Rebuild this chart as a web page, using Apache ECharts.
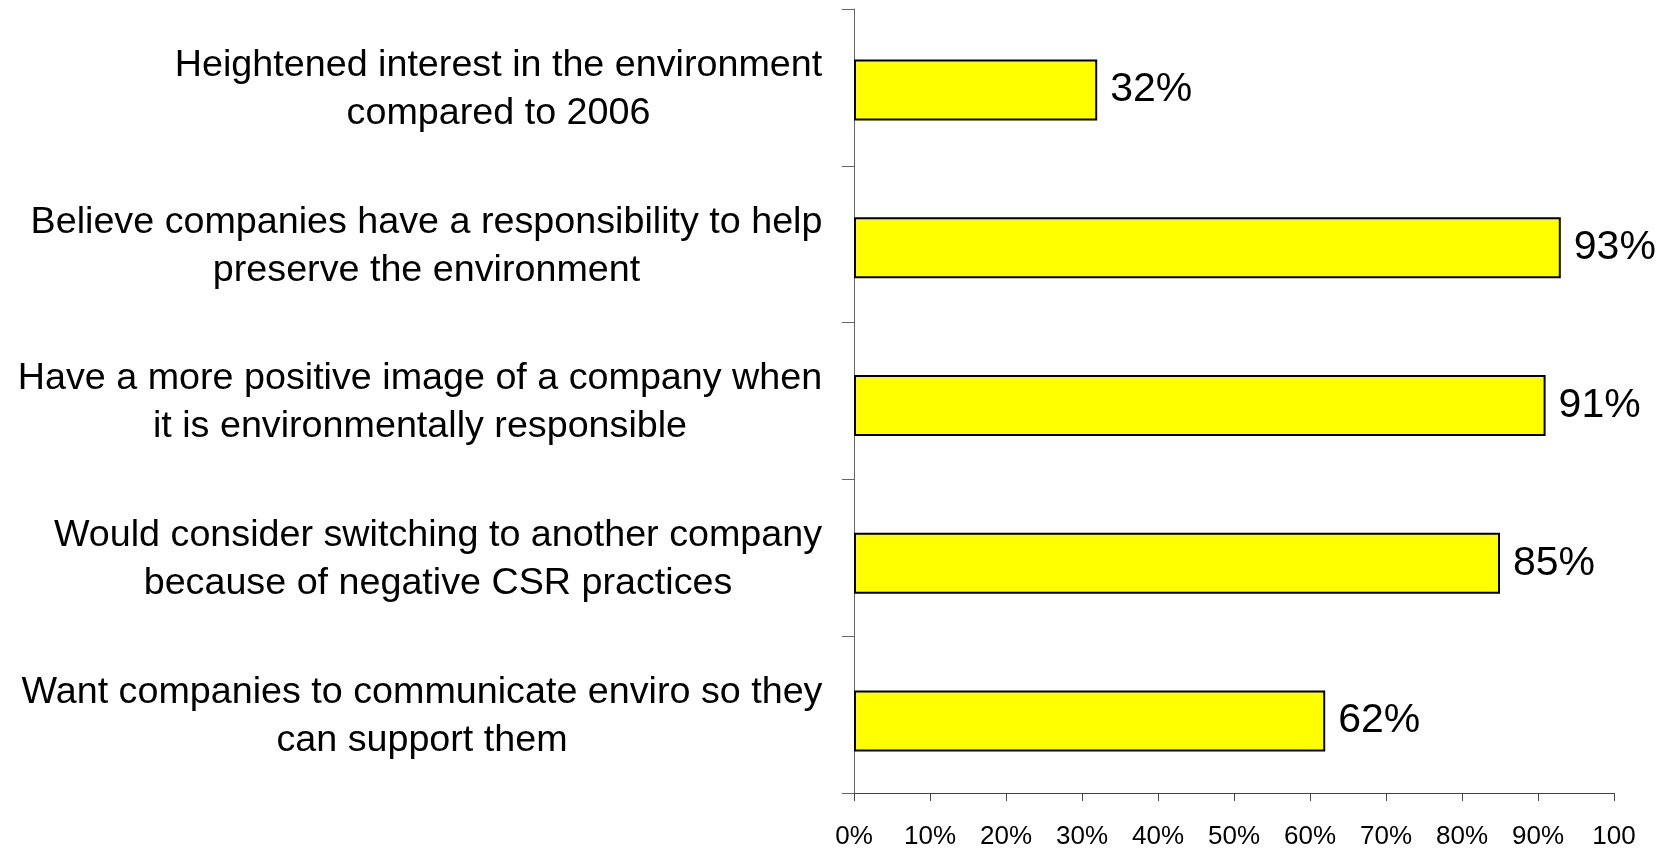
<!DOCTYPE html>
<html><head><meta charset="utf-8">
<script src="https://cdn.jsdelivr.net/npm/echarts@6/dist/echarts.min.js"></script>
<style>html,body{margin:0;padding:0;background:#fff}#c{width:1671px;height:850px}</style>
</head><body><div id="c"></div>
<script>
const categories = [
  'Heightened interest in the environment\ncompared to 2006',
  'Believe companies have a responsibility to help\npreserve the environment',
  'Have a more positive image of a company when\nit is environmentally responsible',
  'Would consider switching to another company\nbecause of negative CSR practices',
  'Want companies to communicate enviro so they\ncan support them'
];
const values = [32, 93, 91, 85, 62];
const xTickLabels = ['0%','10%','20%','30%','40%','50%','60%','70%','80%','90%','100'];

const cv = document.createElement('canvas').getContext('2d');
function mw(font, txt){ cv.font = font; return cv.measureText(txt).width; }
const catFont = 'Liberation Sans', catSize = 37.7;

const rich = {};
categories.forEach((c, i) => {
  const w = Math.max(...c.split('\n').map(l => mw(catSize + 'px "' + catFont + '"', l)));
  rich['c' + i] = { width: Math.ceil(w) + 1, align: 'center', fontSize: catSize, fontFamily: catFont, lineHeight: 48, color: '#000' };
});

const chart = echarts.init(document.getElementById('c'));
chart.setOption({
  animation: false,
  backgroundColor: '#fff',
  grid: [
    { left: 854, right: 57, top: 9, bottom: 52, containLabel: false },
    { left: 854, right: 57, top: 11, bottom: 50, containLabel: false }
  ],
  xAxis: [{
    gridIndex: 0, type: 'value', min: 0, max: 100, interval: 10,
    axisLine: { show: true, lineStyle: { color: '#444', width: 1 } },
    axisTick: { show: true, length: 8, lineStyle: { color: '#444' } },
    splitLine: { show: false },
    axisLabel: {
      margin: 31, fontSize: 26, fontFamily: 'Liberation Sans', color: '#000',
      formatter: v => xTickLabels[Math.round(v / 10)]
    }
  }, {
    gridIndex: 1, type: 'value', min: 0, max: 100, show: false, splitLine: { show: false }
  }],
  yAxis: [{
    gridIndex: 0, type: 'category', inverse: true, data: categories,
    axisLine: { show: true, lineStyle: { color: '#666', width: 1 } },
    axisTick: { show: true, length: 12, lineStyle: { color: '#666' } },
    axisLabel: {
      margin: 31, align: 'right', padding: [4, 0, 0, 0],
      formatter: (v, i) => v.split('\n').map(l => '{c' + i + '|' + l + '}').join('\n'),
      rich: rich
    }
  }, {
    gridIndex: 1, type: 'category', inverse: true, data: categories, show: false
  }],
  series: [{
    type: 'bar', xAxisIndex: 1, yAxisIndex: 1, data: values, barWidth: 61,
    itemStyle: { color: '#FFFF00', borderColor: '#000', borderWidth: 2 },
    label: {
      show: true, position: 'right', distance: 13, formatter: '{c}%',
      fontSize: 41, fontFamily: 'Liberation Sans', color: '#000'
    }
  }]
});
</script>
</body></html>
